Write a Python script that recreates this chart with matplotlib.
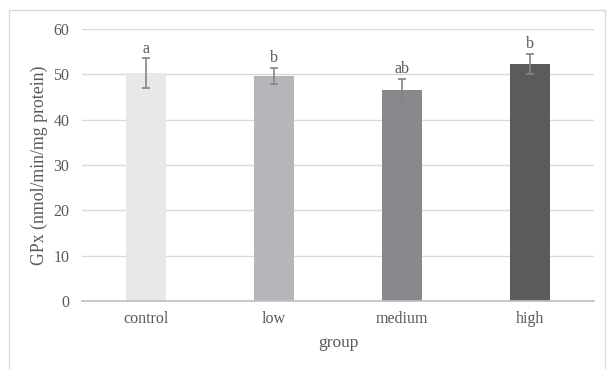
import matplotlib.pyplot as plt
from matplotlib.patches import Rectangle

groups = ["control", "low", "medium", "high"]
gpx_mean = [50.2, 49.6, 46.5, 52.3]
gpx_err = [3.3, 1.8, 2.5, 2.25]
letters = ["a", "b", "ab", "b"]
colors = ["#e7e8ea", "#b5b6b9", "#88898c", "#5b5b5d"]

text_color = "#595959"
plt.rcParams["font.family"] = ["Liberation Serif", "DejaVu Serif"]

fig = plt.figure(figsize=(6.1, 3.69), dpi=100)
ax = fig.add_axes([82 / 610, 1 - 301 / 369, 512 / 610, 272 / 369])

# light frame around the chart area
fig.patches.append(Rectangle((8.5 / 610, -0.05), 596 / 610, 1 - 10 / 369 + 0.05,
                             transform=fig.transFigure, fill=False,
                             edgecolor="#d9d9d9", linewidth=1.0))

x = range(len(groups))
ax.bar(x, gpx_mean, width=0.31, color=colors, zorder=2)
ax.errorbar(x, gpx_mean, yerr=gpx_err, fmt="none", ecolor="#858585",
            elinewidth=1.2, capsize=2.6, capthick=1.2, zorder=3)

for i, (m, e, t) in enumerate(zip(gpx_mean, gpx_err, letters)):
    ax.text(i, m + e + 0.4, t, ha="center", va="bottom", fontsize=11.5,
            color=text_color)

ax.set_xlim(-0.5, len(groups) - 0.5)
ax.set_ylim(0, 60)
ax.set_yticks(range(0, 61, 10))
ax.set_xticks(list(x))
ax.set_xticklabels(groups)
ax.yaxis.grid(True, color="#d9d9d9", linewidth=1.0, zorder=0)
ax.set_axisbelow(True)

for side in ["top", "right", "left"]:
    ax.spines[side].set_visible(False)
ax.spines["bottom"].set_color("#bfbfbf")
ax.spines["bottom"].set_linewidth(1.2)
ax.tick_params(length=0, labelsize=11.5, labelcolor=text_color, pad=7)
ax.tick_params(axis="y", pad=9)

ax.set_xlabel("group", fontsize=12.5, color=text_color, labelpad=6)
ax.set_ylabel("GPx (nmol/min/mg protein)", fontsize=12.8, color=text_color)
ax.yaxis.set_label_coords(-0.066, 0.5)

fig.savefig("out.png", dpi=100)
